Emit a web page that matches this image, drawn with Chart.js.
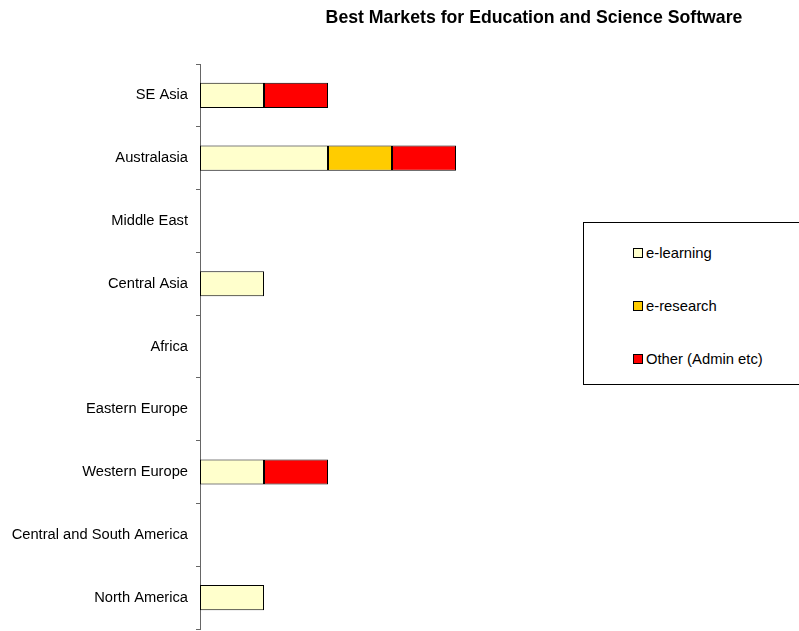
<!DOCTYPE html>
<html>
<head>
<meta charset="utf-8">
<script src="https://cdn.jsdelivr.net/npm/chart.js@4"></script>
<style>
  body { margin: 0; background: #fff; font-family: "Liberation Sans", Arial, sans-serif; }
  #wrap { position: relative; width: 799px; height: 631px; }
  #legend {
    position: absolute; left: 583px; top: 222px; width: 230px; height: 163px;
    border: 1px solid #000; box-sizing: border-box; background: #fff;
  }
  .item { position: absolute; left: 49px; font-size: 14.8px; color: #000; line-height: 16px; }
  .item span.sw {
    display: inline-block; width: 8px; height: 8px; border: 1px solid #000;
    margin-right: 3px; vertical-align: 0px;
  }
</style>
</head>
<body>
<div id="wrap">
  <canvas id="marketChart" width="799" height="631"></canvas>
  <div id="legend"></div>
</div>
<script>
const title = 'Best Markets for Education and Science Software';
const regions = ['SE Asia', 'Australasia', 'Middle East', 'Central Asia', 'Africa',
    'Eastern Europe', 'Western Europe', 'Central and South America', 'North America'];
const seriesNames = ['e-learning', 'e-research', 'Other (Admin etc)'];
const seriesColors = ['#FFFFCC', '#FFCC00', '#FF0000'];
const eLearning = [1, 2, null, 1, null, null, 1, null, 1];
const eResearch = [null, 1, null, null, null, null, null, null, null];
const other = [1, 1, null, null, null, null, 1, null, null];

const seriesData = [eLearning, eResearch, other];

// title sits over the right part of the page, not over the canvas centre
const titlePlugin = {
    id: 'sheetTitle',
    afterDraw(chart) {
        const ctx = chart.ctx;
        ctx.save();
        ctx.font = 'bold 17.7px "Liberation Sans", Arial, sans-serif';
        ctx.fillStyle = '#000';
        ctx.textAlign = 'center';
        ctx.textBaseline = 'middle';
        ctx.fillText(title, 534, 18);
        ctx.restore();
    }
};

function buildLegend() {
    const box = document.getElementById('legend');
    seriesNames.forEach((name, i) => {
        const row = document.createElement('div');
        row.className = 'item';
        row.style.top = (22 + i * 53) + 'px';
        const sw = document.createElement('span');
        sw.className = 'sw';
        sw.style.background = seriesColors[i];
        row.appendChild(sw);
        row.appendChild(document.createTextNode(name));
        box.appendChild(row);
    });
}

window.onload = function() {
    const ctx = document.getElementById('marketChart').getContext('2d');
    new Chart(ctx, {
        type: 'bar',
        data: {
            labels: regions,
            datasets: seriesNames.map((name, i) => ({
                label: name,
                data: seriesData[i],
                backgroundColor: seriesColors[i],
                borderColor: '#000',
                borderWidth: 1,
                borderSkipped: false,
                categoryPercentage: 1,
                barPercentage: 0.4
            }))
        },
        options: {
            indexAxis: 'y',
            responsive: false,
            animation: false,
            layout: { autoPadding: false, padding: { top: 64, bottom: 2, left: 0, right: 279 } },
            scales: {
                x: { display: false, stacked: true, min: 0, max: 5 },
                y: {
                    stacked: true,
                    // fixed axis width, and no extra room for the end labels
                    afterFit: s => {
                        s.width = 200;
                        s.paddingTop = 0;
                        s.paddingBottom = 0;
                    },
                    border: { color: '#666', width: 1 },
                    grid: { drawOnChartArea: false, tickLength: 4, color: '#666' },
                    ticks: {
                        color: '#000',
                        padding: 8,
                        font: { family: '"Liberation Sans", Arial, sans-serif', size: 14.7 }
                    }
                }
            },
            plugins: { legend: { display: false }, tooltip: { enabled: false } }
        },
        plugins: [titlePlugin]
    });
    buildLegend();
};
</script>
</body>
</html>
